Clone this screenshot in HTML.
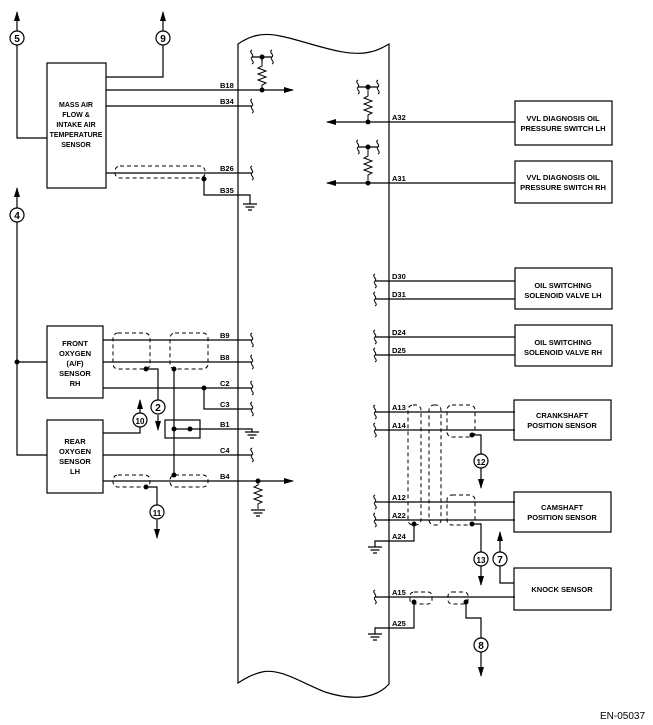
<!DOCTYPE html>
<html><head><meta charset="utf-8"><style>
html,body{margin:0;padding:0;background:#fff}
svg{display:block}
text{font-family:"Liberation Sans",sans-serif;font-weight:bold;fill:#000}
.l{font-size:7.5px}
.b{font-size:7.5px;text-anchor:middle}
.c{font-size:10px;text-anchor:middle}
</style></head><body>
<svg width="653" height="725" viewBox="0 0 653 725" xmlns="http://www.w3.org/2000/svg">
<defs>
<symbol id="sq" overflow="visible"><path d="M0,-7 C-4,-5 3,-2 0,0 C-3,2 4,5 0,7" fill="none" stroke="#000" stroke-width="1"/></symbol>
<symbol id="gnd" overflow="visible"><path d="M-7,0 H7 M-4.5,3 H4.5 M-2,6 H2" stroke="#000" stroke-width="1.2" fill="none"/></symbol>
<symbol id="res" overflow="visible"><path d="M0,0 V4 L-4,6 L4,9 L-4,12 L4,15 L-4,18 L4,21 L0,23 V28" stroke="#000" stroke-width="1" fill="none"/></symbol>
<marker id="ar" markerWidth="10" markerHeight="8" refX="9" refY="4" orient="auto" markerUnits="userSpaceOnUse"><path d="M0,1 L10,4 L0,7 Z" fill="#000"/></marker>
</defs>
<g fill="none" stroke="#000" stroke-width="1.2">
<!-- ECM outline -->
<path d="M238,44 C250,36 262,32 280,36 C310,42 345,58 370,52 C380,50 385,46 389,44 V684 C375,700 350,700 325,692 C300,682 280,668 262,672 C250,675 243,680 238,683 Z"/>
<!-- MAF box -->
<rect x="47" y="63" width="59" height="125"/>
<path d="M106,77 H163 V45"/><path d="M163,32 V12" marker-end="url(#ar)"/>
<path d="M47,138 H17 V45"/><path d="M17,32 V12" marker-end="url(#ar)"/>
<path d="M106,90 H293" marker-end="url(#ar)"/>
<path d="M106,106 H252"/>
<path d="M106,173 H252"/>
<path d="M204,179 V195 H250 V204"/>
<path d="M262,57 V62"/>
<path d="M252,57 H272"/>
<!-- left column 4 -->
<path d="M17,209 V188" marker-end="url(#ar)"/>
<path d="M17,222 V455 H47"/>
<path d="M17,362 H47"/>
<rect x="47" y="326" width="56" height="72"/>
<rect x="47" y="420" width="56" height="73"/>
<path d="M103,340 H252 M103,362 H252 M103,388 H252 M204,388 V409 H252"/>
<path d="M146,369 H158 V400"/><path d="M158,415 V430" marker-end="url(#ar)"/>
<path d="M103,433 H140 V427"/><path d="M140,413 V400" marker-end="url(#ar)"/>
<path d="M174,369 V475"/>
<rect x="165" y="420" width="35" height="18"/>
<path d="M174,429 H190 M190,429 H252 V432"/>
<path d="M103,455 H252"/>
<path d="M103,481 H293" marker-end="url(#ar)"/>
<path d="M146,487 H157 V505"/><path d="M157,520 V538" marker-end="url(#ar)"/>
<!-- right side -->
<path d="M515,122 H327" marker-end="url(#ar)"/>
<path d="M515,183 H327" marker-end="url(#ar)"/>
<rect x="515" y="101" width="97" height="44"/>
<rect x="515" y="161" width="97" height="42"/>
<path d="M358,87 H378 M358,147 H378"/>
<path d="M375,281 H515 M375,299 H515 M375,337 H515 M375,355 H515"/>
<rect x="515" y="268" width="97" height="41"/>
<rect x="515" y="325" width="97" height="41"/>
<path d="M375,412 H515 M375,430 H515 M375,502 H515 M375,520 H515 M375,597 H515"/>
<rect x="514" y="400" width="97" height="40"/>
<rect x="514" y="492" width="97" height="40"/>
<rect x="514" y="568" width="97" height="42"/>
<path d="M414,524 V541 H375 V547"/>
<path d="M414,602 V628 H375 V634"/>
<path d="M472,435 H481 V454"/><path d="M481,468 V488" marker-end="url(#ar)"/>
<path d="M472,524 H481 V552"/><path d="M481,566 V585" marker-end="url(#ar)"/>
<path d="M514,583 H500 V566"/><path d="M500,552 V532" marker-end="url(#ar)"/>
<path d="M466,602 V618 H481 V638"/><path d="M481,652 V676" marker-end="url(#ar)"/>
</g>
<!-- dashed shields -->
<g fill="none" stroke="#000" stroke-width="1" stroke-dasharray="4,3">
<rect x="115" y="166" width="90" height="12" rx="5"/>
<rect x="113" y="333" width="37" height="36" rx="5"/>
<rect x="170" y="333" width="38" height="36" rx="5"/>
<rect x="113" y="475" width="37" height="12" rx="5"/>
<rect x="170" y="475" width="38" height="12" rx="5"/>
<rect x="408" y="405" width="13" height="120" rx="5"/>
<rect x="429" y="405" width="12" height="120" rx="5"/>
<rect x="447" y="405" width="28" height="32" rx="5"/>
<rect x="447" y="495" width="28" height="30" rx="5"/>
<rect x="410" y="592" width="22" height="12" rx="4"/>
<rect x="448" y="592" width="20" height="12" rx="4"/>
</g>
<!-- squiggles -->
<g>
<use href="#sq" x="252" y="106"/><use href="#sq" x="252" y="173"/>
<use href="#sq" x="252" y="57"/><use href="#sq" x="272" y="57"/>
<use href="#sq" x="252" y="340"/><use href="#sq" x="252" y="362"/><use href="#sq" x="252" y="388"/><use href="#sq" x="252" y="409"/><use href="#sq" x="252" y="455"/>
<use href="#sq" x="358" y="87"/><use href="#sq" x="378" y="87"/><use href="#sq" x="358" y="147"/><use href="#sq" x="378" y="147"/>
<use href="#sq" x="375" y="281"/><use href="#sq" x="375" y="299"/><use href="#sq" x="375" y="337"/><use href="#sq" x="375" y="355"/>
<use href="#sq" x="375" y="412"/><use href="#sq" x="375" y="430"/><use href="#sq" x="375" y="502"/><use href="#sq" x="375" y="520"/><use href="#sq" x="375" y="597"/>
<use href="#gnd" x="250" y="204"/><use href="#gnd" x="252" y="432"/><use href="#gnd" x="258" y="510"/>
<use href="#gnd" x="375" y="547"/><use href="#gnd" x="375" y="634"/>
<use href="#res" x="262" y="62"/><use href="#res" x="368" y="92"/><use href="#res" x="368" y="152"/>
</g>
<path d="M368,87 V92 M368,147 V152 M258,481 V484" stroke="#000" stroke-width="1"/>
<use href="#res" x="258" y="481"/>
<!-- dots -->
<g fill="#000">
<circle cx="262" cy="57" r="2.5"/><circle cx="262" cy="90" r="2.5"/><circle cx="204" cy="179" r="2.5"/>
<circle cx="17" cy="362" r="2.5"/><circle cx="146" cy="369" r="2.5"/><circle cx="174" cy="369" r="2.5"/>
<circle cx="204" cy="388" r="2.5"/><circle cx="174" cy="429" r="2.5"/><circle cx="190" cy="429" r="2.5"/>
<circle cx="174" cy="475" r="2.5"/><circle cx="146" cy="487" r="2.5"/><circle cx="258" cy="481" r="2.5"/>
<circle cx="368" cy="87" r="2.5"/><circle cx="368" cy="122" r="2.5"/><circle cx="368" cy="147" r="2.5"/><circle cx="368" cy="183" r="2.5"/>
<circle cx="472" cy="435" r="2.5"/><circle cx="414" cy="524" r="2.5"/><circle cx="472" cy="524" r="2.5"/>
<circle cx="414" cy="602" r="2.5"/><circle cx="466" cy="602" r="2.5"/>
</g>
<!-- circled numbers -->
<g fill="#fff" stroke="#000" stroke-width="1.2">
<circle cx="17" cy="38" r="7"/><circle cx="163" cy="38" r="7"/><circle cx="17" cy="215" r="7"/>
<circle cx="158" cy="407" r="7"/><circle cx="140" cy="420" r="7"/><circle cx="157" cy="512" r="7"/>
<circle cx="481" cy="461" r="7"/><circle cx="481" cy="559" r="7"/><circle cx="500" cy="559" r="7"/><circle cx="481" cy="645" r="7"/>
</g>
<g>
<text class="c" x="17" y="42">5</text><text class="c" x="163" y="42">9</text><text class="c" x="17" y="219">4</text>
<text class="c" x="158" y="411">2</text><text class="c" x="140" y="424" style="font-size:8px">10</text><text class="c" x="157" y="516" style="font-size:8px">11</text>
<text class="c" x="481" y="465" style="font-size:8px">12</text><text class="c" x="481" y="563" style="font-size:8px">13</text><text class="c" x="500" y="563">7</text><text class="c" x="481" y="649">8</text>
</g>
<!-- pin labels -->
<g class="l">
<text x="220" y="88">B18</text><text x="220" y="104">B34</text><text x="220" y="171">B26</text><text x="220" y="193">B35</text>
<text x="220" y="338">B9</text><text x="220" y="360">B8</text><text x="220" y="386">C2</text><text x="220" y="407">C3</text>
<text x="220" y="427">B1</text><text x="220" y="453">C4</text><text x="220" y="479">B4</text>
<text x="392" y="120">A32</text><text x="392" y="181">A31</text>
<text x="392" y="279">D30</text><text x="392" y="297">D31</text><text x="392" y="335">D24</text><text x="392" y="353">D25</text>
<text x="392" y="410">A13</text><text x="392" y="428">A14</text><text x="392" y="500">A12</text><text x="392" y="518">A22</text>
<text x="392" y="539">A24</text><text x="392" y="595">A15</text><text x="392" y="626">A25</text>
</g>
<!-- box texts -->
<g class="b" style="font-size:7px">
<text x="76" y="107">MASS AIR</text><text x="76" y="117">FLOW &amp;</text><text x="76" y="127">INTAKE AIR</text><text x="76" y="137">TEMPERATURE</text><text x="76" y="147">SENSOR</text>
</g>
<g class="b">
<text x="75" y="346">FRONT</text><text x="75" y="356">OXYGEN</text><text x="75" y="366">(A/F)</text><text x="75" y="376">SENSOR</text><text x="75" y="386">RH</text>
<text x="75" y="444">REAR</text><text x="75" y="454">OXYGEN</text><text x="75" y="464">SENSOR</text><text x="75" y="474">LH</text>
<text x="563" y="121">VVL DIAGNOSIS OIL</text><text x="563" y="131">PRESSURE SWITCH LH</text>
<text x="563" y="180">VVL DIAGNOSIS OIL</text><text x="563" y="190">PRESSURE SWITCH RH</text>
<text x="563" y="288">OIL SWITCHING</text><text x="563" y="298">SOLENOID VALVE LH</text>
<text x="563" y="345">OIL SWITCHING</text><text x="563" y="355">SOLENOID VALVE RH</text>
<text x="562" y="418">CRANKSHAFT</text><text x="562" y="428">POSITION SENSOR</text>
<text x="562" y="510">CAMSHAFT</text><text x="562" y="520">POSITION SENSOR</text>
<text x="562" y="592">KNOCK SENSOR</text>
</g>
<text x="600" y="719" style="font-size:10px;font-weight:normal">EN-05037</text>
</svg>
</body></html>
